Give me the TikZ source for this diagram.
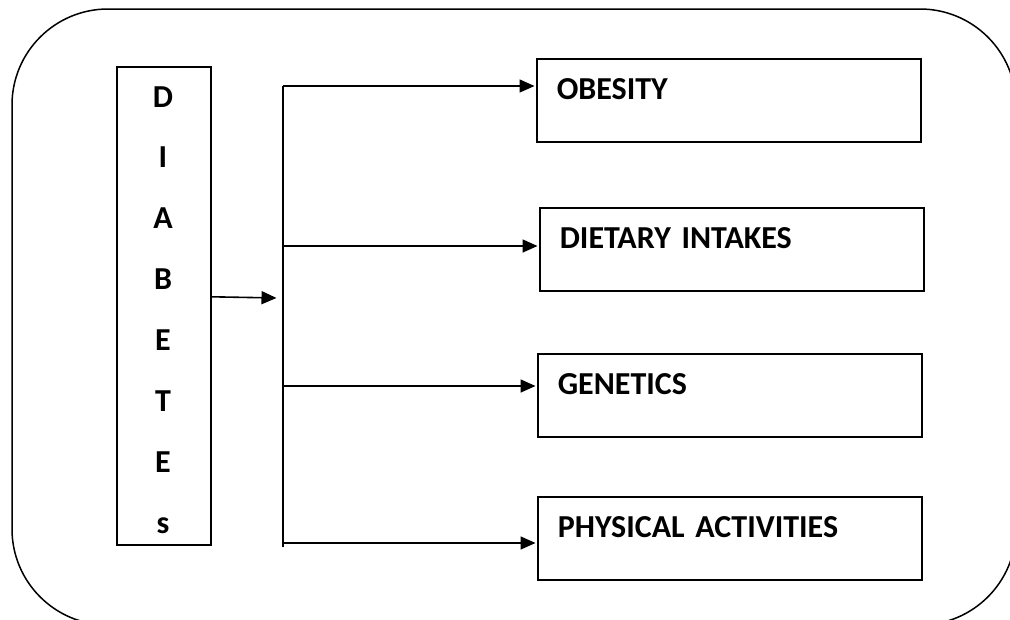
\documentclass[tikz,border=0pt]{standalone}
\usepackage{fontspec}
\setmainfont[WordSpace=0.8]{Carlito}
\usetikzlibrary{arrows.meta,calc}
\newcommand{\lbl}{\bfseries\fontsize{32}{38}\selectfont}
\tikzset{
  frame/.style={draw, line width=1.5pt, rounded corners=96pt},
  factor/.style={draw, line width=1.6pt, anchor=north west, inner xsep=20pt, inner ysep=0pt,
    text width=344pt, align=left, text height=41pt, text depth=42pt, font=\lbl},
  stack/.style={draw, line width=1.6pt, anchor=north west, minimum width=94pt, minimum height=478pt, inner sep=0pt},
  letter/.style={anchor=base, inner sep=0pt, font=\lbl},
  arr/.style={line width=1.6pt, -{Triangle[length=15pt,width=13pt]}, shorten >=1.5pt},
  trunk/.style={line width=2.2pt}
}
\begin{document}
\begin{tikzpicture}[x=1pt,y=-1pt]
\useasboundingbox (0,0) rectangle (1010,619);
\clip (0,0) rectangle (1010,619);
\draw[frame] (12,9) rectangle (1016,625);
% left stack
\node[stack] (diab) at (116,66) {};
\foreach \t [count=\i from 0] in {D,I,A,B,E,T,E,s}
  \node[letter] (l\i) at (163,{107+\i*60.86}) {\t};
% factor boxes
\node[factor] (obe) at (536,58) {OBESITY};
\node[factor] (die) at (539,207) {DIETARY INTAKES};
\node[factor] (gen) at (537,353) {GENETICS};
\node[factor] (phy) at (537,496) {PHYSICAL ACTIVITIES};
% trunk
\coordinate (top) at (283,86);
\coordinate (bot) at (283,547);
\coordinate (b2) at (283,246);
\coordinate (b3) at (283,386);
\coordinate (b4) at (283,543);
\coordinate (hub) at (278,298);
\draw[trunk] (top) -- (bot);
\draw[arr] ([yshift=9pt]diab.east) -- (hub);
\draw[arr] (top) -- (top -| obe.west);
\draw[arr] (b2) -- (b2 -| die.west);
\draw[arr] (b3) -- (b3 -| gen.west);
\draw[arr] (b4) -- (b4 -| phy.west);
\end{tikzpicture}
\end{document}
